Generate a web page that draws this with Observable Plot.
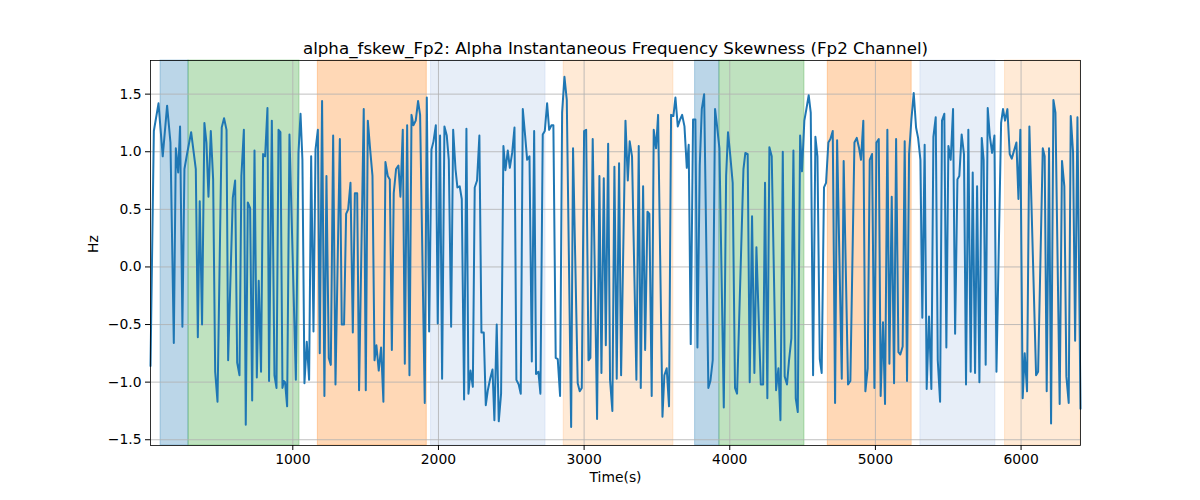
<!DOCTYPE html>
<html>
<head>
<meta charset="utf-8">
<script src="https://cdn.jsdelivr.net/npm/d3@7"></script>
<script src="https://cdn.jsdelivr.net/npm/@observablehq/plot@0.6"></script>
<style>
  html, body { margin: 0; padding: 0; background: #fff; }
  #chart { width: 1200px; height: 500px; }
</style>
</head>
<body>
<div id="chart"></div>
<script>
const titleText = "alpha_fskew_Fp2: Alpha Instantaneous Frequency Skewness (Fp2 Channel)";
const xLabel = "Time(s)";
const yLabel = "Hz";
const xTicks = [1000, 2000, 3000, 4000, 5000, 6000];
const yTicks = [-1.5, -1.0, -0.5, 0.0, 0.5, 1.0, 1.5];

const times = [
  23,46,78,107,137,160,183,197,213,226,242,256,274,302,334,348,361,377,393,407,421,437,453,467,483,512,528,545,556,588,604,618,634,647,664,677,691,707,721,737,753,766,782,796,810,826,837,
  856,874,888,902,915,929,938,947,961,977,1021,1039,1053,1066,1080,1096,1112,1126,1142,1156,1172,1185,1201,1217,1231,1247,1261,1277,1293,1323,1336,1352,1366,1380,1396,1412,1426,1442,1455,1487,1501,1515,1531,1547,1561,1574,1590,1606,1622,1636,1652,1666,
  1680,1693,1709,1725,1739,1755,1769,1785,1801,1815,1828,1844,1860,1874,1906,1920,1936,1952,1966,1982,1995,2011,2025,2041,2057,2071,2087,2101,2117,2130,2146,2160,2176,2192,2206,2220,2236,2249,2265,2281,2295,2311,2325,2339,2355,2371,2384,2400,2414,2430,2446,2460,2476,2490,
  2506,2522,2535,2551,2565,2579,2595,2609,2625,2641,2657,2670,2686,2700,2716,2730,2746,2760,2776,2789,2805,2819,2835,2849,2865,2881,2911,2924,2956,2970,2984,3000,3014,3030,3043,3059,3089,3105,3119,3135,3149,3165,3178,3194,3208,3224,3240,3254,3284,3300,3313,
  3329,3359,3375,3389,3405,3419,3435,3448,3464,3478,3494,3508,3538,3551,3567,3583,3597,3613,3627,3643,3659,3673,3689,3705,3718,3732,3748,3764,3778,3794,3808,3824,3853,3867,3883,3899,3913,3929,3959,3975,3988,4004,4020,4036,4050,4094,4107,4123,4137,
  4153,4169,4183,4213,4229,4242,4258,4272,4288,4318,4334,4348,4364,4377,4393,4407,4423,4437,4453,4467,4483,4496,4512,4526,4542,4556,4572,4588,4602,4618,4631,4647,4661,4677,4691,4707,4723,4737,4769,4782,4812,4828,4856,4872,4888,4901,4917,4931,4947,4961,
  4977,4993,5007,5023,5036,5052,5066,5082,5096,5112,5128,5142,5158,5171,5187,5201,5217,5231,5247,5263,5279,5293,5309,5322,5338,5352,5368,5384,5398,5414,5428,5444,5457,5473,5487,5501,5517,5533,5547,5563,5576,5592,5608,5622,5638,5654,5668,5684,5698,5714,5730,5743,5757,5771,5785,
  5801,5817,5831,5863,5876,5890,5906,5922,5936,5952,5968,5982,5995,6011,6025,6041,6057,6103,6117,6149,6162,6176,6192,6206,6222,6236,6265,6281,6297,6311,6327,6341,6357,6371,6387,6408
];
const hz = [
  -0.86,1.18,1.42,0.96,1.40,1.08,-0.66,1.03,0.82,1.22,-0.52,0.85,0.98,1.17,0.85,-0.61,0.57,-0.50,1.25,1.08,0.61,1.18,0.76,-0.91,-1.17,1.21,1.29,1.19,-0.81,0.60,0.75,-0.83,-0.94,0.79,1.19,-1.37,0.56,0.51,-1.16,1.01,-0.96,-0.12,-0.91,0.98,0.96,1.38,-0.99,
  1.27,-0.94,-1.05,1.19,1.17,-1.05,-0.99,-1.00,-1.21,1.15,-0.98,0.99,1.33,0.93,-1.01,-0.65,-0.98,0.96,-0.56,1.02,1.19,-0.75,1.44,-1.12,0.79,-0.79,-0.85,1.14,-1.02,1.11,-0.50,-0.50,0.46,0.50,0.73,-0.57,0.64,0.64,-1.07,1.37,-1.07,1.27,1.02,0.79,-0.81,-0.68,-0.90,-0.70,-1.17,0.91,0.79,0.76,
  -0.72,0.64,0.85,0.88,0.61,1.19,-0.84,1.23,-0.94,1.32,1.23,1.27,1.44,1.32,-1.18,1.47,-0.56,1.02,1.09,1.23,-0.49,1.14,-0.97,1.22,1.14,0.93,-0.52,1.19,0.85,0.69,0.70,0.59,-1.15,1.20,-1.10,-0.90,-1.04,0.69,0.75,1.14,-0.57,-0.57,-1.20,-1.07,-0.97,-0.89,-1.33,-0.50,-1.34,-1.10,1.05,0.84,1.01,0.86,
  0.99,1.21,-0.98,-1.02,-1.10,1.37,1.14,0.93,0.96,-0.82,1.18,-0.93,-0.91,-1.10,1.15,1.18,1.42,1.19,1.23,1.23,-0.79,-0.80,-1.12,1.34,1.65,1.45,-1.39,1.03,-1.01,-1.08,-1.05,1.18,1.19,-0.81,-0.79,1.11,-1.32,0.79,-0.92,0.77,-0.68,1.07,-0.98,-1.25,0.87,-0.97,0.90,-0.94,1.27,0.75,1.09,
  0.96,-0.98,1.05,-1.05,0.70,-0.72,0.48,0.46,-1.12,1.19,1.03,1.32,-1.30,-0.94,-0.88,-1.21,1.32,1.31,1.47,1.22,1.28,1.32,1.22,0.86,1.06,-0.67,1.28,1.28,-0.70,0.88,1.37,1.50,-1.05,-0.99,-0.81,1.37,1.22,1.03,-1.22,0.79,1.17,0.96,0.73,-1.05,-1.10,0.85,0.99,0.98,-1.00,
  0.44,-0.92,0.17,-1.02,-1.02,0.73,-1.14,1.04,0.96,-1.07,-0.88,-1.33,1.00,-0.95,-1.02,-0.81,-0.62,1.01,-1.14,-1.26,1.14,0.83,1.27,1.37,1.49,1.34,-0.94,1.13,0.96,-0.80,-0.92,0.69,0.73,1.08,1.11,1.18,-1.18,1.10,-0.97,0.92,-1.02,-0.99,1.08,1.12,1.03,0.93,1.27,-1.08,-0.88,0.93,
  0.98,-1.05,1.08,1.11,-1.12,-0.48,-1.19,1.19,-0.84,0.61,-1.01,1.11,-0.74,-0.76,-0.69,1.09,-0.99,0.98,1.28,1.51,1.21,1.12,0.93,-0.44,1.06,-1.06,-0.43,-1.06,1.13,1.30,-0.81,-1.17,1.27,1.33,-0.70,1.05,0.93,1.37,-0.58,0.76,0.79,1.15,0.98,-1.02,1.19,-0.91,0.82,-0.92,0.70,-1.00,1.12,0.93,-0.85,1.38,1.14,
  0.99,1.14,-0.91,1.25,1.37,1.27,1.37,0.98,0.94,1.01,1.08,0.59,1.19,-1.14,-0.75,-1.08,1.22,-0.94,-0.91,1.03,0.96,-1.08,1.03,-1.36,1.45,1.34,-1.19,0.92,0.70,-0.95,-1.18,1.31,0.99,-0.64,1.30,-1.23
];

const spanStart = [92, 284, 1172, 1949, 2860, 3762, 3929, 4673, 5309, 5890];
const spanEnd   = [284, 1046, 1920, 2735, 3613, 3929, 4513, 5249, 5824, 6408];
const spanStage = ["s0", "s1", "s2", "s3", "s4", "s0", "s1", "s2", "s3", "s4"];

const stageDomain = ["s0", "s1", "s2", "s3", "s4"];
const stagePalette = ["#1f77b4", "#2ca02c", "#ff7f0e", "#aec7e8", "#ffbb78"];

const series = times.map((t, i) => ({t, v: hz[i]}));
const spans = spanStart.map((s, i) => ({start: s, end: spanEnd[i], stage: spanStage[i]}));

const fmtY = d3.format(".1f");
const fmtX = d3.format("d");

const chart = Plot.plot({
  width: 1200,
  height: 500,
  marginLeft: 150,
  marginRight: 120,
  marginTop: 60,
  marginBottom: 55,
  style: {fontFamily: "DejaVu Sans", fontSize: "13.9px", color: "black", background: "white"},
  x: {domain: [23, 6408]},
  y: {domain: [-1.55, 1.792]},
  color: {domain: stageDomain, range: stagePalette},
  marks: [
    Plot.rect(spans, {x1: "start", x2: "end", fill: "stage", fillOpacity: 0.3, stroke: "stage", strokeOpacity: 0.3, strokeWidth: 1}),
    Plot.gridX(xTicks, {stroke: "#b0b0b0", strokeOpacity: 1, strokeWidth: 0.8}),
    Plot.gridY(yTicks, {stroke: "#b0b0b0", strokeOpacity: 1, strokeWidth: 0.8}),
    Plot.line(series, {x: "t", y: "v", stroke: "#1f77b4", strokeWidth: 2}),
    Plot.frame({stroke: "black", strokeWidth: 0.8}),
    Plot.axisX(xTicks, {label: null, tickSize: 5, tickPadding: 4, stroke: "black", tickFormat: fmtX, fontSize: 13.9}),
    Plot.axisY(yTicks, {label: null, tickSize: 5, tickPadding: 4, stroke: "black", tickFormat: fmtY, fontSize: 13.9}),
    Plot.text([titleText], {text: d => d, frameAnchor: "top", dy: -18, fontSize: 16.7, fill: "black"}),
    Plot.text([xLabel], {text: d => d, frameAnchor: "bottom", dy: 36, fontSize: 13.9, fill: "black"}),
    Plot.text([yLabel], {text: d => d, frameAnchor: "left", dx: -57, rotate: -90, fontSize: 13.9, fill: "black"})
  ]
});
document.getElementById("chart").appendChild(chart);
</script>
</body>
</html>
